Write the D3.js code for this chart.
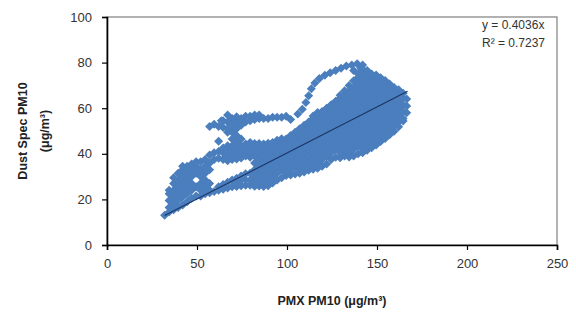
<!DOCTYPE html>
<html>
<head>
<meta charset="utf-8">
<script src="https://cdn.jsdelivr.net/npm/d3@7"></script>
<style>
  html, body { margin: 0; padding: 0; background: #fff; }
  svg { display: block; font-family: "Liberation Sans", Arial, sans-serif; }
</style>
</head>
<body>
<svg id="chart" width="576" height="322"></svg>
<script>
// PMX PM10 readings (x) grouped in columns, with the Dust Spec PM10 readings (y) at each.
const pmxColumns = [32, 34.5, 37, 39.5, 42, 44.5, 47, 49.5, 52, 54.5, 57, 59.5, 62, 64.5, 67, 69.5,
  72, 74.5, 77, 79.5, 82, 84.5, 87, 89.5, 92, 94.5, 97, 99.5, 102, 104.5, 107, 109.5, 112, 114.5,
  117, 119.5, 122, 124.5, 127, 129.5, 132, 134.5, 137, 139.5, 142, 144.5, 147, 149.5, 152, 154.5,
  157, 159.5, 162, 164.5, 166.5];

const dustSpecColumns = [
  [13],
  [14.5, 16.5, 19.5, 22.5, 24],
  [15.5, 18, 21, 24, 27, 29.5],
  [16.5, 19.5, 22.5, 25.5, 28.5, 31.5],
  [17.5, 21, 24, 27, 30, 33, 34.5],
  [19, 22.5, 25.5, 28.5, 31.5, 34.5],
  [20.5, 24, 27, 30, 33, 35.5],
  [21.5, 25.5, 31.5, 34.5, 36.5],
  [21.5, 24, 27, 30, 33, 36.5],
  [22.5, 25.5, 28.5, 31.5, 34.5, 37.5],
  [22.9, 24, 27, 33, 36, 39.5],
  [23.5, 37.5, 40.5],
  [24, 25.5, 38, 41],
  [24.5, 26.5, 37.5, 40.5, 42.5, 51.5, 54.5],
  [25, 27.5, 37, 39, 42, 43.5, 49.5, 51, 54, 57],
  [25.5, 28.5, 37.5, 40.5, 43.5, 46.5, 49.5, 52.5, 55.5],
  [25.7, 27, 29.3, 37.7, 39, 42, 45, 48, 51, 54, 56.3],
  [26, 28.5, 30.3, 38.2, 40.5, 43.5, 46.5, 52.5, 55.5],
  [26.2, 28.5, 31.3, 39, 42, 44.3, 54, 56.5],
  [26.2, 28.5, 31.5, 38.5, 40.5, 43.5, 45, 54.5, 56.5],
  [25.8, 27, 30, 33, 36, 39, 42, 44.5, 55, 57],
  [25.9, 28.5, 31.5, 34.5, 37.5, 40.5, 43.5, 44.5, 55.5, 57],
  [25.7, 27, 30, 33, 36, 39, 42, 44.3, 55.5],
  [26, 28.5, 31.5, 34.5, 37.5, 40.5, 43.5, 44.6, 55.5],
  [27.2, 30, 33, 36, 39, 42, 45, 56],
  [28.5, 31.5, 34.5, 37.5, 40.5, 43.5, 45.9, 56],
  [29.5, 33, 36, 39, 42, 45, 46.6, 56],
  [30.5, 31.5, 34.5, 37.5, 40.5, 43.5, 46.5, 56.5],
  [30.7, 33, 36, 39, 42, 45, 48, 55],
  [31.1, 34.5, 37.5, 40.5, 43.5, 46.5, 49.5],
  [31.5, 33, 36, 39, 42, 45, 48, 51],
  [32, 34.5, 37.5, 40.5, 43.5, 46.5, 49.5, 52.5],
  [32.8, 36, 39, 42, 45, 48, 51, 54],
  [33.2, 34.5, 37.5, 40.5, 43.5, 46.5, 49.5, 52.5, 55.5, 56.6],
  [33.7, 36, 39, 42, 45, 48, 51, 54, 57, 58.1],
  [34.5, 37.5, 40.5, 43.5, 46.5, 49.5, 52.5, 55.5, 58.5],
  [35.5, 39, 42, 45, 48, 51, 54, 57, 60],
  [37.5, 40.5, 43.5, 46.5, 49.5, 52.5, 55.5, 58.5, 61.5],
  [38.5, 42, 45, 48, 51, 54, 57, 60, 63],
  [38.3, 40.5, 43.5, 46.5, 49.5, 52.5, 55.5, 58.5, 61.5, 64.5, 65.7],
  [39, 42, 45, 48, 51, 54, 57, 60, 63, 66, 67.6],
  [38.6, 40.5, 43.5, 46.5, 49.5, 52.5, 55.5, 58.5, 61.5, 64.5, 67.5, 70],
  [39, 42, 45, 48, 51, 54, 57, 60, 63, 66, 69, 72, 76.5],
  [40, 43.5, 46.5, 49.5, 52.5, 55.5, 58.5, 61.5, 64.5, 67.5, 70.5, 73.5, 75.1],
  [40.5, 42, 45, 48, 51, 54, 57, 60, 63, 66, 69, 72, 75, 77.1, 79],
  [41.6, 43.5, 46.5, 49.5, 52.5, 55.5, 58.5, 61.5, 64.5, 67.5, 70.5, 73.5, 76.5],
  [42.7, 45, 48, 51, 54, 57, 60, 63, 66, 69, 72, 75],
  [43.9, 46.5, 49.5, 52.5, 55.5, 58.5, 61.5, 64.5, 67.5, 70.5, 73.5, 74.6],
  [45.4, 48, 51, 54, 57, 60, 63, 66, 69, 72, 73.4],
  [46.7, 49.5, 52.5, 55.5, 58.5, 61.5, 64.5, 67.5, 70.5, 72.1],
  [48.4, 51, 54, 57, 60, 63, 66, 69, 70.6],
  [49.9, 52.5, 55.5, 58.5, 61.5, 64.5, 67.5, 69.1],
  [51.9, 54, 57, 60, 63, 66, 68.1],
  [54.4, 55.5, 58.5, 61.5, 64.5, 66.6],
  [58, 61, 64]
];

// Scattered readings outside the dense columns: [PMX PM10, Dust Spec PM10]
const scatteredReadings = [
  [57, 52], [59.5, 53], [62, 45.5], [62, 52], [63.5, 54.5],
  [106, 57.5], [108.5, 59.5], [110.5, 62.5], [112, 65.5], [113.5, 68.5], [115.5, 71],
  [118, 73], [121, 74.5], [124, 75.5], [127, 76.5], [130, 77.5], [133, 78.5],
  [136, 79], [139, 79.5], [141, 77.5]
];

// Linear fit through the origin
const slope = 0.4036;
const rSquared = 0.7237;
const fitRange = [32, 167];

const xTicks = [0, 50, 100, 150, 200, 250];
const yTicks = [0, 20, 40, 60, 80, 100];
const xTitle = "PMX PM10 (μg/m³)";
const yTitleLines = ["Dust Spec PM10", "(μg/m³)"];

// ---- build the point table
const points = [];
pmxColumns.forEach((x, i) => dustSpecColumns[i].forEach(y => points.push([x, y])));
scatteredReadings.forEach(p => points.push(p));

const svg = d3.select("#chart");
const plot = { left: 107, right: 557, top: 17, bottom: 245 };

const x = d3.scaleLinear().domain([0, 250]).range([plot.left, plot.right]);
const y = d3.scaleLinear().domain([0, 100]).range([plot.bottom, plot.top]);

// plot area frame
svg.append("rect")
  .attr("x", plot.left).attr("y", plot.top)
  .attr("width", plot.right - plot.left).attr("height", plot.bottom - plot.top)
  .attr("fill", "none").attr("stroke", "#7f7f7f").attr("stroke-width", 1.2);

// diamond markers
const r = 4.5;
svg.append("g").selectAll("path")
  .data(points)
  .join("path")
  .attr("d", d => `M${x(d[0])},${y(d[1]) - r}L${x(d[0]) + r},${y(d[1])}L${x(d[0])},${y(d[1]) + r}L${x(d[0]) - r},${y(d[1])}Z`)
  .attr("fill", "#4a7ebd");

// trend line
svg.append("line")
  .attr("x1", x(fitRange[0])).attr("y1", y(slope * fitRange[0]))
  .attr("x2", x(fitRange[1])).attr("y2", y(slope * fitRange[1]))
  .attr("stroke", "#1c3566").attr("stroke-width", 1.2);

// axes
const tickColor = "#333";
const xAxis = d3.axisBottom(x).tickValues(xTicks).tickSize(5).tickPadding(9);
const yAxis = d3.axisLeft(y).tickValues(yTicks).tickSize(5).tickPadding(10);

const gx = svg.append("g").attr("transform", `translate(0,${plot.bottom})`).call(xAxis);
const gy = svg.append("g").attr("transform", `translate(${plot.left},0)`).call(yAxis);
[gx, gy].forEach(g => {
  g.select(".domain").attr("stroke", "#000").attr("stroke-width", 1.6);
  g.selectAll(".tick line").attr("stroke", "#000").attr("stroke-width", 1.2);
  g.selectAll(".tick text").attr("fill", tickColor)
    .style("font-size", "13px").style("font-family", "Liberation Sans, Arial, sans-serif");
});

// axis titles
svg.append("text")
  .attr("x", 332).attr("y", 302)
  .attr("text-anchor", "middle").attr("dominant-baseline", "middle")
  .attr("font-size", 12.5).attr("font-weight", "bold").attr("fill", "#222")
  .text(xTitle);

const yt = svg.append("text")
  .attr("transform", "translate(23,131) rotate(-90)")
  .attr("text-anchor", "middle")
  .attr("font-size", 12.5).attr("font-weight", "bold").attr("fill", "#222");
yTitleLines.forEach((line, i) => {
  yt.append("tspan").attr("x", 0).attr("dy", i === 0 ? "0.35em" : "1.7em").text(line);
});

// fit equation
const eq = svg.append("text").attr("font-size", 12).attr("fill", "#333");
eq.append("tspan").attr("x", 482).attr("y", 29).text(`y = ${slope}x`);
eq.append("tspan").attr("x", 482).attr("y", 47).text(`R² = ${rSquared}`);
</script>
</body>
</html>
